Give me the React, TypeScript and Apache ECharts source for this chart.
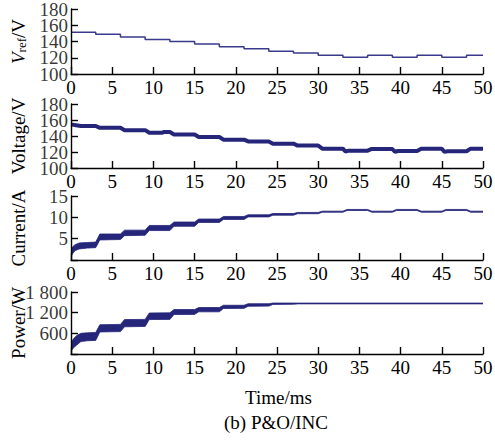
import React, { useEffect, useRef } from "react";
import * as echarts from "echarts";

// ---------- data ----------
const X_TICKS = [0, 5, 10, 15, 20, 25, 30, 35, 40, 45, 50];

// y tick values of the four panels
const Y_TICKS_VREF = [100, 120, 140, 160, 180];
const Y_TICKS_VOLT = [100, 120, 140, 160, 180];
const Y_TICKS_CUR = [5, 10, 15];
const Y_TICKS_POW = [600, 1200, 1800];
const POW_TICK_LABELS = ["600", "1 200", "1 800"];

// Panel 1: reference voltage (stepwise)
const VREF_T = [0, 3, 6, 9, 12, 15, 18, 21, 24, 27, 30, 33, 36, 39, 42, 45, 48, 50];
const VREF_V = [151.5, 149, 145.5, 142.5, 140, 137, 133.5, 131, 128, 126, 123, 120.5, 123, 120.5, 123, 120.5, 123, 123];

// Panel 2: measured voltage
const VOLT_T = [0, 0.6, 1.2, 3.0, 3.5, 6.0, 6.5, 9.0, 9.5, 11.0, 11.3, 12.0, 12.5, 15.0, 15.5, 18.0, 18.5, 21.0, 21.5, 24.0, 24.5, 27.0, 27.5, 30.0, 30.5, 33.0, 33.3, 33.7, 36.0, 36.5, 39.0, 39.3, 39.7, 42.0, 42.5, 45.0, 45.3, 45.7, 48.0, 48.5, 50];
const VOLT_V = [154.5, 153.5, 152.5, 152.5, 150.2, 150.2, 147.3, 147.3, 144, 144, 145, 145, 141.9, 141.9, 138.8, 138.8, 135.4, 135.4, 133.2, 133.2, 130.4, 130.4, 128, 128, 124.2, 124.2, 120.6, 121.7, 121.7, 123.8, 123.8, 120.3, 121.3, 121.3, 124.2, 124.2, 120.2, 121, 121, 124.2, 124.2];

// Panel 3: current band (lower / upper envelope)
const CUR_T = [0, 0.2, 0.5, 1.0, 2.0, 3.0, 3.5, 6.0, 6.5, 9.0, 9.5, 12.0, 12.5, 15.0, 15.5, 18.0, 18.5, 21.0, 21.5, 24.0, 24.5, 27.0, 27.5, 30.0, 30.5, 33.0, 33.5, 36.0, 36.5, 39.0, 39.5, 42.0, 42.5, 45.0, 45.5, 48.0, 48.5, 50];
const CUR_LO = [0.8, 1.5, 2.2, 2.6, 2.8, 2.9, 4.7, 4.8, 5.7, 5.8, 6.9, 6.9, 7.9, 7.9, 8.8, 8.8, 9.5, 9.5, 10.1, 10.1, 10.5, 10.5, 10.85, 10.85, 11.2, 11.2, 11.6, 11.6, 11.2, 11.2, 11.6, 11.6, 11.2, 11.2, 11.6, 11.6, 11.2, 11.2];
const CUR_HI = [2.6, 3.1, 3.6, 4.0, 4.1, 4.2, 6.1, 6.1, 7.0, 7.0, 8.1, 8.1, 8.9, 8.9, 9.6, 9.6, 10.2, 10.2, 10.6, 10.6, 10.9, 10.9, 11.15, 11.15, 11.45, 11.45, 11.85, 11.85, 11.45, 11.45, 11.85, 11.85, 11.45, 11.45, 11.85, 11.85, 11.45, 11.45];

// Panel 4: power band (lower / upper envelope)
const POW_T = [0, 0.3, 0.7, 1.2, 2.0, 3.0, 3.5, 6.0, 6.5, 9.0, 9.5, 12.0, 12.5, 15.0, 15.5, 18.0, 18.5, 21.0, 21.5, 24.0, 24.5, 27.0, 27.5, 50];
const POW_LO = [80, 180, 260, 360, 385, 395, 640, 650, 790, 800, 1000, 1005, 1145, 1150, 1225, 1225, 1320, 1325, 1385, 1390, 1440, 1445, 1455, 1455];
const POW_HI = [330, 440, 540, 600, 615, 625, 850, 860, 1000, 1005, 1190, 1195, 1290, 1290, 1350, 1350, 1415, 1415, 1460, 1460, 1480, 1480, 1478, 1478];

const Y_NAMES = ["{v|V}{s|ref}{n|/V}", "Voltage/V", "Current/A", "Power/W"];
const X_TITLE = "Time/ms";
const CAPTION = "(b) P&O/INC";

// ---------- component ----------
const FONT = "Liberation Serif";
const NAVY = "#25257a";

export default function App() {
  const ref = useRef<HTMLDivElement>(null);

  useEffect(() => {
    if (!ref.current) return;
    const chart = echarts.init(ref.current, undefined, { renderer: "svg" });

    const grids = [
      { left: 71, width: 412, top: 9, height: 65 },
      { left: 71, width: 412, top: 104, height: 64 },
      { left: 71, width: 412, top: 196, height: 64 },
      { left: 71, width: 412, top: 292, height: 62 },
    ].map((g) => ({ ...g, containLabel: false, outerBoundsMode: "none" }));
    const yRanges = [
      { min: 100, max: 180, interval: 20 },
      { min: 100, max: 180, interval: 20 },
      { min: 0, max: 15, interval: 5 },
      { min: 0, max: 1800, interval: 600 },
    ];
    const yTicks = [Y_TICKS_VREF, Y_TICKS_VOLT, Y_TICKS_CUR, Y_TICKS_POW];
    const yTickText = [
      Y_TICKS_VREF.map(String),
      Y_TICKS_VOLT.map(String),
      Y_TICKS_CUR.map(String),
      POW_TICK_LABELS,
    ];

    const axisLine = { show: true, lineStyle: { color: "#000", width: 1.4 } };
    const axisTick = { show: true, inside: true, length: 7, lineStyle: { color: "#000", width: 1.4 } };
    const labelStyle = { color: "#000", fontFamily: FONT, fontSize: 19, lineHeight: 13 };

    const xAxis = grids.map((_, i) => ({
      type: "value",
      gridIndex: i,
      min: X_TICKS[0],
      max: X_TICKS[X_TICKS.length - 1],
      interval: X_TICKS[1] - X_TICKS[0],
      z: 5,
      axisLine,
      axisTick,
      splitLine: { show: false },
      axisLabel: { ...labelStyle, margin: 7, showMaxLabel: true, showMinLabel: true, hideOverlap: false },
    }));

    const yAxis = grids.map((_, i) => ({
      type: "value",
      gridIndex: i,
      min: yRanges[i].min,
      max: yRanges[i].max,
      interval: yRanges[i].interval,
      z: 5,
      axisLine,
      axisTick,
      splitLine: { show: false },
      axisLabel: { show: false },
      name: Y_NAMES[i],
      nameLocation: "middle",
      nameRotate: 90,
      nameGap: 43,
      nameMoveOverlap: false,
      nameTextStyle: {
        color: "#000",
        fontFamily: FONT,
        fontSize: 19,
        rich: {
          v: { fontFamily: FONT, fontSize: 19, fontStyle: "italic", color: "#000", lineHeight: 22, verticalAlign: "bottom" },
          s: { fontFamily: FONT, fontSize: 13, color: "#000", lineHeight: 10, verticalAlign: "bottom" },
          n: { fontFamily: FONT, fontSize: 19, color: "#000", lineHeight: 22, verticalAlign: "bottom" },
        },
      },
    }));

    // y tick labels placed at the tick values through each panel's own scales
    const tickLabelSeries = grids.map((_, i) => ({
      type: "scatter",
      xAxisIndex: i,
      yAxisIndex: i,
      symbolSize: 0,
      silent: true,
      clip: false,
      z: 6,
      data: yTicks[i].map((v, k) => ({ value: [X_TICKS[0], v], name: yTickText[i][k] })),
      label: {
        show: true,
        position: "left",
        distance: 3,
        formatter: (p: any) => p.name,
        color: "#000",
        fontFamily: FONT,
        fontSize: 19,
      },
      labelLayout: { hideOverlap: false },
    }));

    // band drawn as a polygon between the lower and upper envelopes, positioned by the axes' scales
    const band = (idx: number, T: number[], lo: number[], hi: number[]) => ({
      type: "custom",
      xAxisIndex: idx,
      yAxisIndex: idx,
      clip: true,
      data: T.map((t, k) => [t, lo[k], hi[k]]),
      encode: { x: 0, y: [1, 2] },
      renderItem: (params: any, api: any) => {
        if (params.dataIndex !== 0) return null;
        const upper = T.map((t, k) => api.coord([t, hi[k]]));
        const lower = T.map((t, k) => api.coord([t, lo[k]])).reverse();
        return {
          type: "polygon",
          shape: { points: upper.concat(lower) },
          style: { fill: NAVY, stroke: NAVY, lineWidth: 0.8 },
        };
      },
    });

    const series: any[] = [
      {
        name: "Vref",
        type: "line",
        xAxisIndex: 0,
        yAxisIndex: 0,
        step: "end",
        symbol: "none",
        data: VREF_T.map((t, k) => [t, VREF_V[k]]),
        lineStyle: { color: "#3a3a8c", width: 1.5 },
      },
      {
        name: "Voltage",
        type: "line",
        xAxisIndex: 1,
        yAxisIndex: 1,
        symbol: "none",
        data: VOLT_T.map((t, k) => [t, VOLT_V[k]]),
        lineStyle: { color: NAVY, width: 4 },
      },
      band(2, CUR_T, CUR_LO, CUR_HI),
      band(3, POW_T, POW_LO, POW_HI),
      ...tickLabelSeries,
    ];

    const textStyle = { color: "#000", fontFamily: FONT, fontSize: 19, fontWeight: "normal" };

    chart.setOption({
      animation: false,
      backgroundColor: "#fff",
      title: [
        { text: X_TITLE, left: 245, top: 388, padding: 0, textStyle },
        { text: CAPTION, left: 224, top: 413, padding: 0, textStyle },
      ],
      grid: grids,
      xAxis,
      yAxis,
      series,
    });

    return () => chart.dispose();
  }, []);

  return (
    <div
      ref={ref}
      style={{ position: "fixed", left: 0, top: 0, width: 495, height: 441, background: "#fff" }}
    />
  );
}
